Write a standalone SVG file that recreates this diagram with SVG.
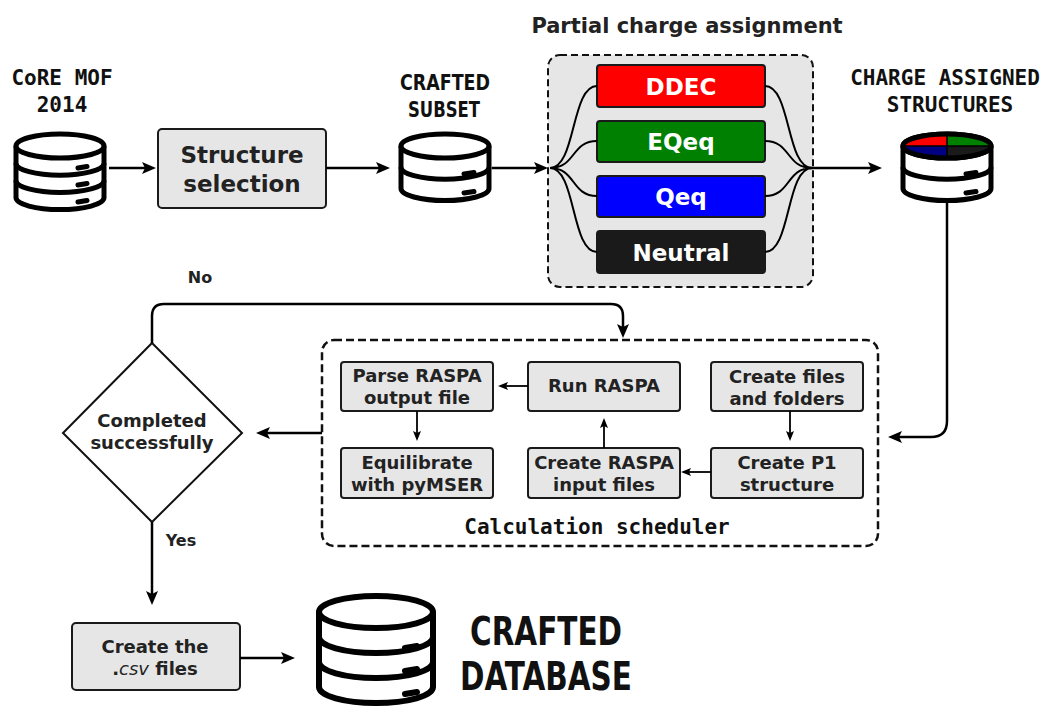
<svg xmlns="http://www.w3.org/2000/svg" width="1045" height="706" viewBox="0 0 1045 706">
<style>
.bg{fill:#ffffff}
.db{fill:#ffffff;stroke:#000;stroke-width:5;stroke-linejoin:round}
.dbl{fill:none;stroke:#000;stroke-width:5}
.pill{fill:none;stroke:#000;stroke-width:5;stroke-linecap:round}
.box{fill:#e6e6e6;stroke:#1a1a1a;stroke-width:2}
.cbox{stroke:#1a1a1a;stroke-width:2}
.grp{fill:#e6e6e6;stroke:#111;stroke-width:2;stroke-dasharray:7 4}
.sched{fill:none;stroke:#111;stroke-width:2.5;stroke-dasharray:8 4}
.con{fill:none;stroke:#000;stroke-width:2.5}
.brace{fill:none;stroke:#000;stroke-width:2}
.scon{fill:none;stroke:#000;stroke-width:1.8}
.t{font-family:"DejaVu Sans","Liberation Sans",sans-serif;font-weight:bold;fill:#222;text-anchor:middle}
.m{font-family:"DejaVu Sans Mono","Liberation Mono",monospace;font-weight:bold;fill:#111;text-anchor:middle;font-size:21px}
.c{font-family:"DejaVu Sans Condensed","DejaVu Sans","Liberation Sans Narrow",sans-serif;font-stretch:condensed;font-weight:bold;fill:#111;text-anchor:middle}
.w{fill:#ffffff;font-size:23px}
.s{font-size:18px}
</style>
<defs>
<marker id="ah" markerUnits="userSpaceOnUse" markerWidth="14" markerHeight="12" viewBox="0 0 14 12" refX="3" refY="6" orient="auto">
<path d="M0,0 L14,6 L0,12 L3,6 Z" fill="#000"/>
</marker>
<marker id="sh" markerUnits="userSpaceOnUse" markerWidth="10" markerHeight="8" viewBox="0 0 10 8" refX="2" refY="4" orient="auto">
<path d="M0,0 L10,4 L0,8 L2,4 Z" fill="#000"/>
</marker>
</defs>
<rect class="bg" x="0" y="0" width="1045" height="706"/>

<g id="title">
<text class="t" x="687" y="33" font-size="21">Partial charge assignment</text>
</g>

<g id="core-mof">
<text class="m" x="62" y="85">CoRE MOF</text>
<text class="m" x="62" y="112">2014</text>
<path class="db" d="M16,146 V197.6 A44,12 0 0 0 104,197.6 V146"/>
<ellipse class="db" cx="60" cy="146" rx="44" ry="12"/>
<path class="dbl" d="M16,163.2 A44,12 0 0 0 104,163.2 M16,180.4 A44,12 0 0 0 104,180.4"/>
<path class="pill" d="M78,168 L87,166.5 M78,185 L87,183.5 M78,202 L87,200.5"/>
</g>

<g id="structure-selection">
<rect class="box" x="158" y="129" width="168" height="79" rx="4"/>
<text class="t" x="242" y="163" font-size="23">Structure</text>
<text class="t" x="242" y="192" font-size="23">selection</text>
</g>

<g id="crafted-subset">
<text class="c" x="445" y="90" font-size="21" textLength="90" lengthAdjust="spacingAndGlyphs">CRAFTED</text>
<text class="c" x="444" y="117" font-size="21" textLength="72" lengthAdjust="spacingAndGlyphs">SUBSET</text>
<path class="db" d="M401,146 V188.5 A44,12 0 0 0 489,188.5 V146"/>
<ellipse class="db" cx="445" cy="146" rx="44" ry="12"/>
<path class="dbl" d="M401,167.2 A44,12 0 0 0 489,167.2"/>
<path class="pill" d="M464,174 L474,172.5 M464,193 L474,191.5"/>
</g>

<g id="partial-charge">
<rect class="grp" x="548" y="55" width="265" height="232" rx="12"/>
<rect class="cbox" x="597" y="65" width="168" height="42" rx="3" fill="#ff0000"/>
<text class="t w" x="681" y="95">DDEC</text>
<rect class="cbox" x="597" y="121" width="168" height="41" rx="3" fill="#008000"/>
<text class="t w" x="681" y="150">EQeq</text>
<rect class="cbox" x="597" y="176" width="168" height="41" rx="3" fill="#0000ff"/>
<text class="t w" x="681" y="205">Qeq</text>
<rect class="cbox" x="597" y="231" width="168" height="42" rx="3" fill="#1a1a1a"/>
<text class="t w" x="681" y="261">Neutral</text>
</g>

<g id="charge-assigned">
<text class="m" x="945" y="85">CHARGE ASSIGNED</text>
<text class="m" x="950" y="112">STRUCTURES</text>
<path class="db" d="M903,146 V188.5 A44,12 0 0 0 991,188.5 V146"/>
<ellipse class="db" cx="947" cy="146" rx="44" ry="12"/>
<path d="M947,146 H903 A44,12 0 0 1 947,134 Z" fill="#ff0000"/>
<path d="M947,146 V134 A44,12 0 0 1 991,146 Z" fill="#008000"/>
<path d="M947,146 H903 A44,12 0 0 0 947,158 Z" fill="#000080"/>
<path d="M947,146 V158 A44,12 0 0 0 991,146 Z" fill="#1a1a1a"/>
<path d="M903,146 H991 M947,134 V158" stroke="#000" stroke-width="1.5" fill="none"/>
<ellipse cx="947" cy="146" rx="44" ry="12" fill="none" stroke="#000" stroke-width="5"/>
<path class="dbl" d="M903,167.2 A44,12 0 0 0 991,167.2"/>
<path class="pill" d="M966,174 L976,172.5 M966,193 L976,191.5"/>
</g>

<g id="scheduler">
<rect class="sched" x="322" y="340" width="556" height="206" rx="12"/>
<text class="m" x="597" y="534">Calculation scheduler</text>
</g>

<g id="parse-raspa">
<rect class="box" x="341" y="362" width="152" height="49" rx="3"/>
<text class="t s" x="417" y="382">Parse RASPA</text>
<text class="t s" x="417" y="404">output file</text>
</g>
<g id="run-raspa">
<rect class="box" x="528" y="362" width="152" height="49" rx="3"/>
<text class="t s" x="604" y="392">Run RASPA</text>
</g>
<g id="create-files">
<rect class="box" x="711" y="362" width="152" height="49" rx="3"/>
<text class="t s" x="787" y="383">Create files</text>
<text class="t s" x="787" y="405">and folders</text>
</g>
<g id="equilibrate">
<rect class="box" x="341" y="448" width="152" height="50" rx="3"/>
<text class="t s" x="417" y="469">Equilibrate</text>
<text class="t s" x="417" y="491">with pyMSER</text>
</g>
<g id="create-raspa-input">
<rect class="box" x="528" y="448" width="152" height="50" rx="3"/>
<text class="t s" x="604" y="469">Create RASPA</text>
<text class="t s" x="604" y="491">input files</text>
</g>
<g id="create-p1">
<rect class="box" x="711" y="448" width="152" height="50" rx="3"/>
<text class="t s" x="787" y="469">Create P1</text>
<text class="t s" x="787" y="491">structure</text>
</g>

<g id="decision">
<polygon points="152,343 242,433 152,522 63,433" fill="#ffffff" stroke="#111" stroke-width="2"/>
<text class="t s" x="152" y="427">Completed</text>
<text class="t s" x="152" y="449">successfully</text>
</g>

<g id="create-csv">
<rect class="box" x="72" y="623" width="168" height="67" rx="4"/>
<text class="t s" x="155" y="653">Create the</text>
<text class="t s" x="155" y="675">.<tspan font-style="italic" font-weight="normal">csv</tspan> files</text>
</g>

<g id="crafted-database">
<path class="db" style="stroke-width:6" d="M319,612 V687 A57,16 0 0 0 433,687 V612"/>
<ellipse class="db" style="stroke-width:6" cx="376" cy="612" rx="57" ry="16"/>
<path class="dbl" style="stroke-width:6" d="M319,637 A57,16 0 0 0 433,637 M319,662 A57,16 0 0 0 433,662"/>
<path class="pill" style="stroke-width:6" d="M405,648 L417,646 M405,671 L417,669 M405,694 L417,692"/>
<text class="c" x="546" y="645" font-size="39" textLength="152" lengthAdjust="spacingAndGlyphs">CRAFTED</text>
<text class="c" x="546" y="690" font-size="39" textLength="172" lengthAdjust="spacingAndGlyphs">DATABASE</text>
</g>

<g id="connectors">
<path class="con" d="M109,168 H145" marker-end="url(#ah)"/>
<path class="con" d="M326,168 H379" marker-end="url(#ah)"/>
<path class="con" d="M492,168 H537" marker-end="url(#ah)"/>
<path class="brace" d="M550,168 C576,168 571,86 597,86 M550,168 C576,168 571,141 597,141 M550,168 C576,168 571,196 597,196 M550,168 C576,168 571,252 597,252"/>
<path class="brace" d="M765,86 C791,86 786,168 812,168 M765,141 C791,141 786,168 812,168 M765,196 C791,196 786,168 812,168 M765,252 C791,252 786,168 812,168"/>
<path class="con" d="M810,168 H871" marker-end="url(#ah)"/>
<path class="con" d="M947,203 V421 Q947,437 931,437 H899" marker-end="url(#ah)"/>
<path class="con" d="M322,433 H267" marker-end="url(#ah)"/>
<path class="con" d="M152,343 V316 Q152,304 164,304 H611 Q623,304 623,316 V327" marker-end="url(#ah)"/>
<text class="t" x="200" y="283" font-size="16">No</text>
<path class="con" d="M152,522 V594" marker-end="url(#ah)"/>
<text class="t" x="181" y="546" font-size="16">Yes</text>
<path class="con" d="M240,658 H284" marker-end="url(#ah)"/>
<path class="scon" d="M528,386 H506" marker-end="url(#sh)"/>
<path class="scon" d="M417,411 V433" marker-end="url(#sh)"/>
<path class="scon" d="M604,448 V426" marker-end="url(#sh)"/>
<path class="scon" d="M790,411 V433" marker-end="url(#sh)"/>
<path class="scon" d="M711,472 H689" marker-end="url(#sh)"/>
</g>
</svg>
